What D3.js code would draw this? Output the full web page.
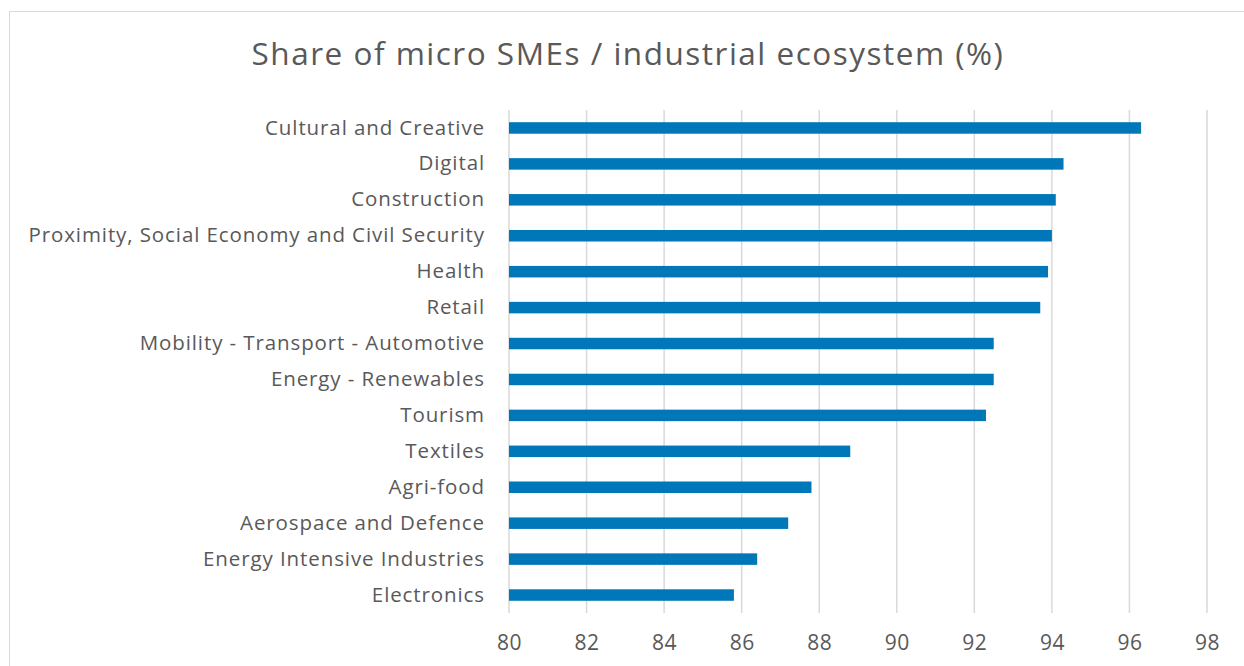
<!DOCTYPE html>
<html>
<head>
<meta charset="utf-8">
<script src="https://cdn.jsdelivr.net/npm/d3@7"></script>
<style>
  html, body { margin: 0; padding: 0; background: #fff; }
  svg { display: block; }
</style>
</head>
<body>
<svg id="chart" width="1244" height="666"></svg>
<script>
// Ecosystems, top to bottom
const categories = [
  "Cultural and Creative",
  "Digital",
  "Construction",
  "Proximity, Social Economy and Civil Security",
  "Health",
  "Retail",
  "Mobility - Transport - Automotive",
  "Energy - Renewables",
  "Tourism",
  "Textiles",
  "Agri-food",
  "Aerospace and Defence",
  "Energy Intensive Industries",
  "Electronics"
];
// Share of micro SMEs (%)
const shares = [96.3, 94.3, 94.1, 94.0, 93.9, 93.7, 92.5, 92.5, 92.3, 88.8, 87.8, 87.2, 86.4, 85.8];
const xTicks = [80, 82, 84, 86, 88, 90, 92, 94, 96, 98];
const title = "Share of micro SMEs / industrial ecosystem (%)";

const svg = d3.select("#chart");
const font = "'Open Sans', 'Liberation Sans', sans-serif";
const textColor = "#595959";

// chart frame
svg.append("rect")
  .attr("x", 9.5).attr("y", 11.5)
  .attr("width", 1260).attr("height", 700)
  .attr("fill", "#fff")
  .attr("stroke", "#d9d9d9").attr("stroke-width", 1);

const plot = { left: 509, right: 1207, top: 110, bottom: 613 };

const x = d3.scaleLinear().domain([80, 98]).range([plot.left, plot.right]);
const y = d3.scaleBand().domain(categories).range([plot.top, plot.bottom]).paddingInner(0.68).paddingOuter(0.34);

// vertical gridlines
svg.append("g")
  .selectAll("line")
  .data(xTicks)
  .join("line")
  .attr("x1", d => x(d)).attr("x2", d => x(d))
  .attr("y1", plot.top).attr("y2", plot.bottom)
  .attr("stroke", "#d9d9d9").attr("stroke-width", 1.5);

// bars
svg.append("g")
  .selectAll("rect")
  .data(shares)
  .join("rect")
  .attr("x", x(80))
  .attr("y", (d, i) => y(categories[i]))
  .attr("width", d => x(d) - x(80))
  .attr("height", y.bandwidth())
  .attr("fill", "#0077b9");

// category labels
const yAxis = svg.append("g")
  .attr("transform", `translate(${plot.left},0)`)
  .call(d3.axisLeft(y).tickSize(0).tickPadding(24));
yAxis.select(".domain").remove();
yAxis.selectAll("text")
  .attr("fill", textColor)
  .style("font-family", font)
  .style("font-size", "20.5px")
  .style("letter-spacing", "0.9px");

// value axis labels
const xAxis = svg.append("g")
  .attr("transform", `translate(0,${plot.bottom})`)
  .call(d3.axisBottom(x).tickValues(xTicks).tickSize(0).tickPadding(22));
xAxis.select(".domain").remove();
xAxis.selectAll("text")
  .attr("fill", textColor)
  .style("font-family", font)
  .style("font-size", "21px")
  .style("letter-spacing", "0.5px");

// title
svg.append("text")
  .attr("x", 628).attr("y", 65)
  .attr("text-anchor", "middle")
  .attr("fill", textColor)
  .style("font-family", font)
  .style("font-size", "31.5px")
  .style("letter-spacing", "1.5px")
  .text(title);
</script>
</body>
</html>
